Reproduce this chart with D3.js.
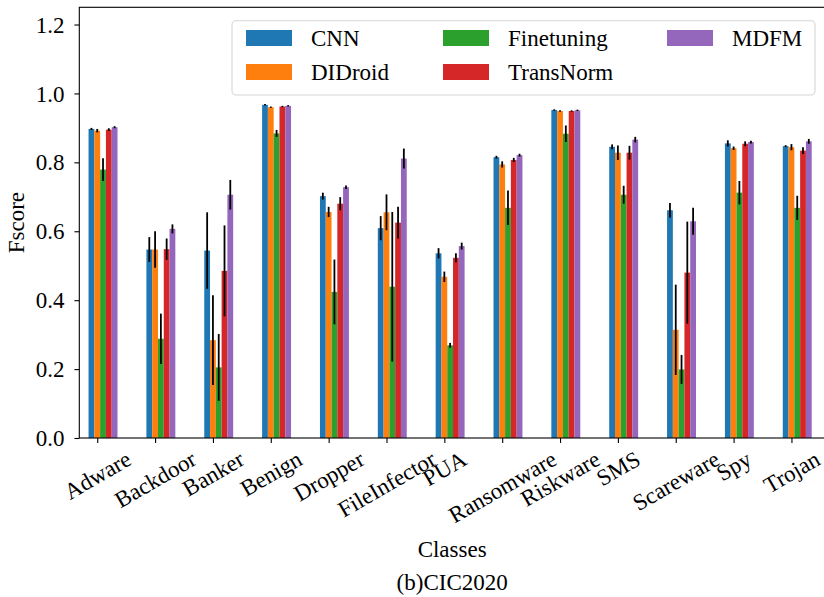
<!DOCTYPE html>
<html>
<head>
<meta charset="utf-8">
<script src="https://cdn.jsdelivr.net/npm/d3@7"></script>
<style>
  html, body { margin: 0; padding: 0; background: #ffffff; }
  svg { display: block; }
  text { font-family: "Liberation Serif", "Times New Roman", serif; fill: #000; }
</style>
</head>
<body>
<svg id="chart" width="824" height="597"></svg>
<script>
// Class names along the x axis
const categories = ["Adware", "Backdoor", "Banker", "Benign", "Dropper", "FileInfector", "PUA",
  "Ransomware", "Riskware", "SMS", "Scareware", "Spy", "Trojan"];

// Method names and colours
const methods = ["CNN", "DIDroid", "Finetuning", "TransNorm", "MDFM"];
const colors = ["#1f77b4", "#ff7f0e", "#2ca02c", "#d62728", "#9467bd"];

// Mean F-score per class
const cnnScore        = [0.897, 0.547, 0.544, 0.967, 0.702, 0.609, 0.536, 0.815, 0.952, 0.845, 0.661, 0.855, 0.847];
const didroidScore    = [0.892, 0.547, 0.284, 0.960, 0.656, 0.655, 0.468, 0.794, 0.949, 0.828, 0.314, 0.841, 0.844];
const finetuningScore = [0.779, 0.288, 0.205, 0.884, 0.424, 0.439, 0.269, 0.668, 0.883, 0.706, 0.199, 0.712, 0.668];
const transnormScore  = [0.895, 0.548, 0.485, 0.962, 0.680, 0.625, 0.523, 0.807, 0.949, 0.828, 0.480, 0.854, 0.834];
const mdfmScore       = [0.902, 0.607, 0.706, 0.964, 0.728, 0.811, 0.557, 0.821, 0.951, 0.866, 0.629, 0.859, 0.861];

// Standard deviation per class (error bar half-length)
const cnnStd        = [0.003, 0.036, 0.111, 0.002, 0.010, 0.035, 0.015, 0.004, 0.002, 0.007, 0.021, 0.009, 0.003];
const didroidStd    = [0.005, 0.053, 0.130, 0.002, 0.015, 0.052, 0.015, 0.009, 0.002, 0.021, 0.131, 0.005, 0.009];
const finetuningStd = [0.033, 0.073, 0.097, 0.010, 0.094, 0.217, 0.007, 0.050, 0.024, 0.026, 0.042, 0.034, 0.035];
const transnormStd  = [0.004, 0.031, 0.132, 0.002, 0.019, 0.046, 0.013, 0.006, 0.002, 0.020, 0.148, 0.007, 0.010];
const mdfmStd       = [0.003, 0.013, 0.043, 0.002, 0.005, 0.029, 0.010, 0.004, 0.002, 0.008, 0.039, 0.004, 0.007];

const yTicks = [0.0, 0.2, 0.4, 0.6, 0.8, 1.0, 1.2];

const scores = [cnnScore, didroidScore, finetuningScore, transnormScore, mdfmScore];
const stds = [cnnStd, didroidStd, finetuningStd, transnormStd, mdfmStd];

const FONT = 23;
const svg = d3.select("#chart");

// Axes frame
const plotL = 79.3, plotR = 825, plotT = 7.3, plotB = 438;
const x = d3.scaleLinear().domain([-0.31, 12.58]).range([plotL, plotR]);
const y = d3.scaleLinear().domain([0, 1.25]).range([plotB, plotT]);
const barW = 0.1;

// Bars and error bars
methods.forEach((m, i) => {
  const offset = (i - 1) * barW;
  const rows = categories.map((c, k) => ({ k, v: scores[i][k], s: stds[i][k] }));
  const g = svg.append("g").attr("class", "series");
  g.selectAll("rect")
    .data(rows)
    .join("rect")
    .attr("x", d => x(d.k + offset - barW / 2))
    .attr("width", d => x(d.k + offset + barW / 2) - x(d.k + offset - barW / 2))
    .attr("y", d => y(d.v))
    .attr("height", d => y(0) - y(d.v))
    .attr("fill", colors[i]);
  g.selectAll("line")
    .data(rows)
    .join("line")
    .attr("x1", d => x(d.k + offset))
    .attr("x2", d => x(d.k + offset))
    .attr("y1", d => y(d.v - d.s))
    .attr("y2", d => y(d.v + d.s))
    .attr("stroke", "#000")
    .attr("stroke-width", 1.8);
});

// Y axis
const yAxis = svg.append("g")
  .attr("transform", `translate(${plotL},0)`)
  .call(d3.axisLeft(y).tickValues(yTicks).tickFormat(d3.format(".1f")).tickSize(4.9).tickPadding(10));
yAxis.select(".domain").remove();
yAxis.selectAll(".tick line").attr("stroke", "#000").attr("stroke-width", 1.1);
yAxis.selectAll(".tick text").attr("font-size", FONT).attr("font-family", "Liberation Serif, serif")
  .attr("dy", "0.33em");

// X axis
const xAxis = svg.append("g")
  .attr("transform", `translate(0,${plotB})`)
  .call(d3.axisBottom(x).tickValues(d3.range(categories.length)).tickFormat(k => categories[k]).tickSize(4.9));
xAxis.select(".domain").remove();
xAxis.selectAll(".tick line").attr("stroke", "#000").attr("stroke-width", 1.1);
// Rotated tick labels: bounding box of the rotated text centred under the tick, top just below it
xAxis.selectAll(".tick text")
  .attr("font-size", FONT)
  .attr("font-family", "Liberation Serif, serif")
  .attr("dy", null)
  .attr("y", 0)
  .attr("text-anchor", "middle")
  .each(function () {
    const t = d3.select(this);
    const w = this.getComputedTextLength();
    const h = FONT * 1.1;
    const ang = 30 * Math.PI / 180;
    const bh = w * Math.sin(ang) + h * Math.cos(ang);
    const cy = 8.4 + bh / 2;
    t.attr("transform", `translate(0,${cy}) rotate(-30)`)
      .attr("dy", "0.32em");
  });

// Frame
svg.append("rect")
  .attr("x", plotL).attr("y", plotT)
  .attr("width", plotR - plotL).attr("height", plotB - plotT)
  .attr("fill", "none").attr("stroke", "#000").attr("stroke-width", 1.1);

// Axis titles
svg.append("text")
  .attr("transform", `translate(24,${(plotT + plotB) / 2}) rotate(-90)`)
  .attr("text-anchor", "middle").attr("font-size", FONT)
  .text("Fscore");
svg.append("text")
  .attr("x", (plotL + plotR) / 2).attr("y", 557)
  .attr("text-anchor", "middle").attr("font-size", FONT)
  .text("Classes");
svg.append("text")
  .attr("x", (plotL + plotR) / 2).attr("y", 590)
  .attr("text-anchor", "middle").attr("font-size", FONT)
  .text("(b)CIC2020");

// Legend
const legend = svg.append("g");
legend.append("rect")
  .attr("x", 232).attr("y", 20.7).attr("width", 815 - 232).attr("height", 95 - 20.7)
  .attr("rx", 4).attr("fill", "#fff").attr("fill-opacity", 0.8)
  .attr("stroke", "#d6d6d6").attr("stroke-width", 1.1);
const colX = [246, 443, 667];
const rowY = [38, 72];
methods.forEach((m, i) => {
  const cx = colX[Math.floor(i / 2)];
  const cy = rowY[i % 2];
  legend.append("rect")
    .attr("x", cx).attr("y", cy - 8).attr("width", 46).attr("height", 16)
    .attr("fill", colors[i]);
  legend.append("text")
    .attr("x", cx + 65).attr("y", cy + 7.8)
    .attr("font-size", FONT)
    .text(m);
});
</script>
</body>
</html>
